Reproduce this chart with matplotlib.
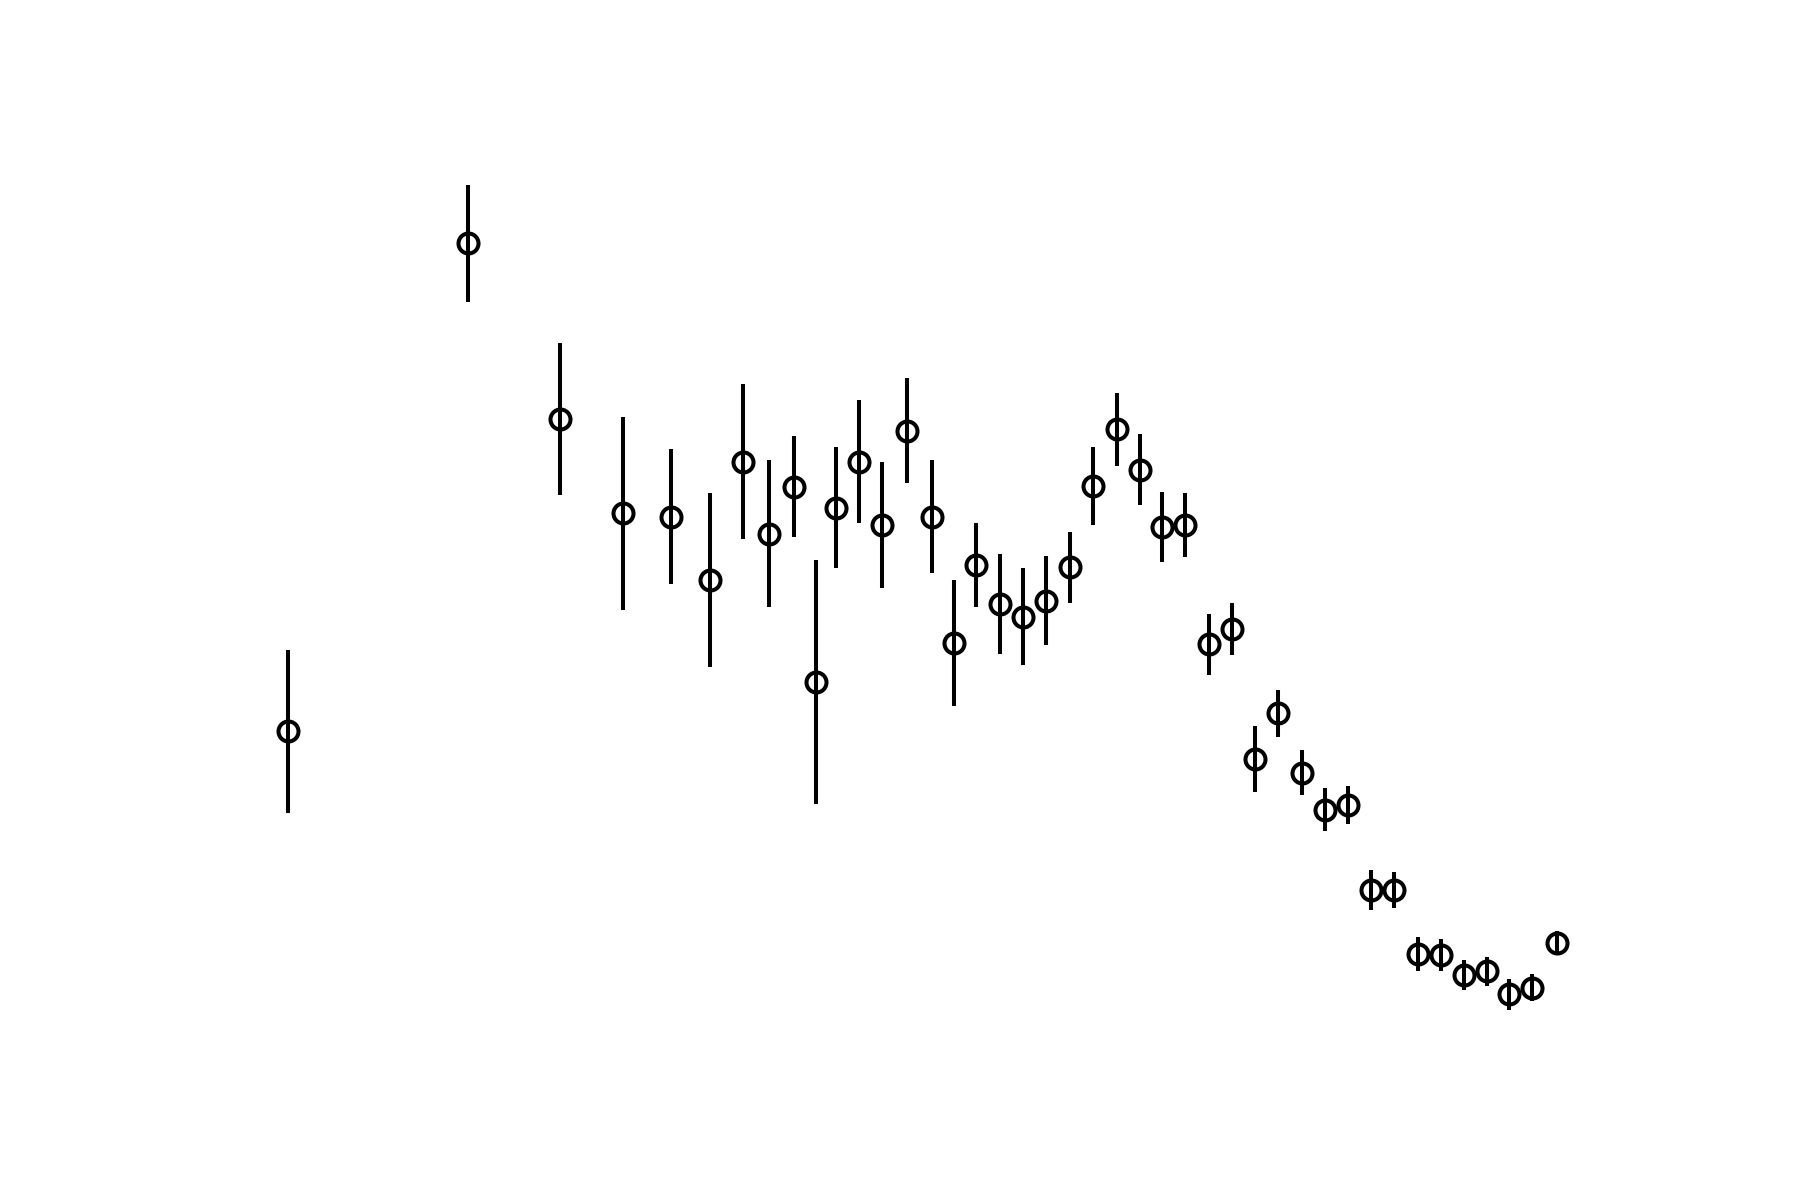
import matplotlib
matplotlib.use("Agg")
import matplotlib.pyplot as plt
import numpy as np

x = [0.0, 7.77, 11.73, 14.46, 16.53, 18.17, 19.60, 20.74, 21.83, 22.77,
     23.61, 24.60, 25.59, 26.68, 27.77, 28.71, 29.65, 30.69, 31.68, 32.67,
     33.71, 34.70, 35.74, 36.73, 37.67, 38.66, 39.70, 40.69, 41.68, 42.67,
     43.71, 44.70, 45.69, 46.68, 47.67, 48.71, 49.70, 50.69, 51.68, 52.67,
     53.66, 54.70]
y = [40.8, 83.3, 68.0, 59.8, 59.5, 54.0, 64.3, 58.0, 62.1, 45.1,
     60.3, 64.3, 58.8, 67.0, 59.5, 48.5, 55.3, 51.9, 50.8, 52.2,
     55.1, 62.2, 67.1, 63.6, 58.6, 58.8, 48.4, 49.7, 38.4, 42.4,
     37.2, 34.0, 34.4, 27.0, 27.0, 21.4, 21.3, 19.6, 19.9, 17.9,
     18.5, 22.4]
yerr = [7.1, 5.1, 6.6, 8.4, 5.9, 7.6, 6.75, 6.4, 4.4, 10.6,
        5.3, 5.35, 5.5, 4.6, 4.9, 5.5, 3.65, 4.35, 4.25, 3.85,
        3.1, 3.4, 3.2, 3.1, 3.05, 2.8, 2.65, 2.25, 2.85, 2.05,
        1.95, 1.9, 1.65, 1.75, 1.55, 1.5, 1.4, 1.3, 1.25, 1.35,
        1.2, 1.0]

fig = plt.figure(figsize=(18, 12), dpi=100)
ax = fig.add_axes([0, 0, 1, 1])
ax.errorbar(x, y, yerr=yerr, fmt='o', mfc='none', mec='black', color='black',
            ms=14.4, mew=2.9, elinewidth=2.9, capsize=0)
ax.set_xlim(-12.43, 65.20)
ax.set_ylim(0, 104.5)
ax.axis('off')
fig.savefig("out.png", dpi=100, facecolor='white')
